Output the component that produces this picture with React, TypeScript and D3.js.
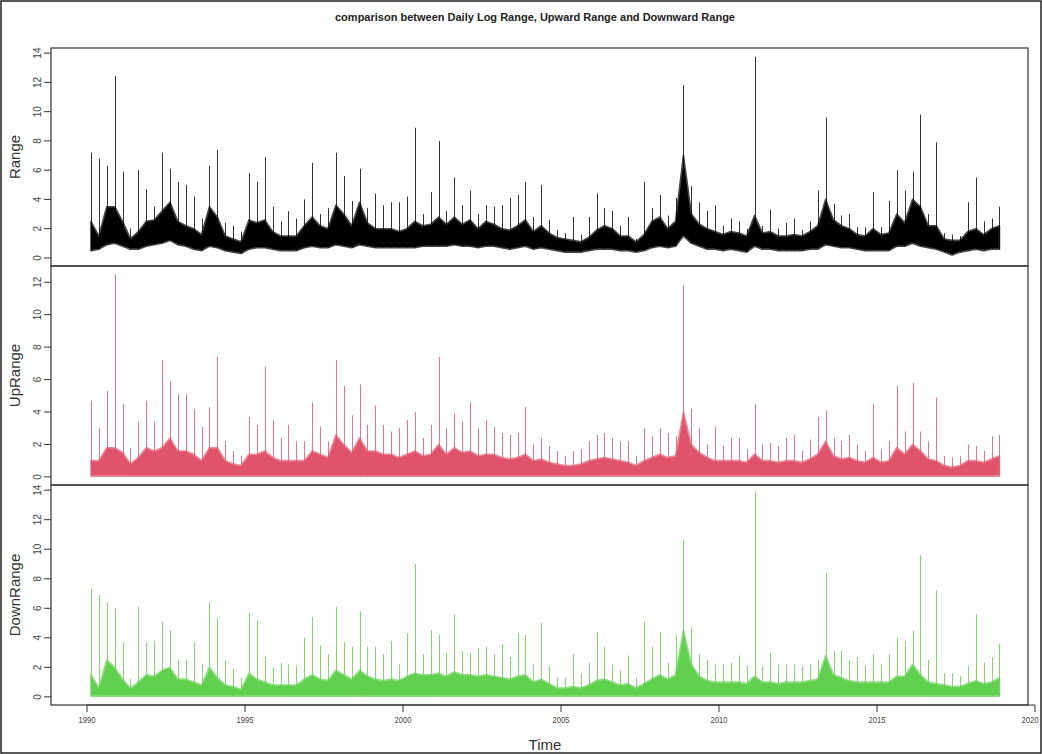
import React from "react";
import * as d3 from "d3";

const startYear = 1990;
const binsPerYear = 4;

const rangePeak = [
  7.2, 6.8, 6.3, 12.45, 5.9, 2.0, 6.0, 4.7, 3.5, 7.2,
  6.1, 5.2, 5.0, 4.2, 2.7, 6.3, 7.4, 2.4, 2.2, 1.8,
  5.8, 5.2, 6.9, 3.5, 2.5, 3.2, 2.7, 4.0, 6.5, 3.0,
  3.4, 7.2, 5.6, 3.9, 6.1, 3.4, 4.4, 3.6, 3.8, 3.8,
  4.2, 8.9, 3.0, 4.5, 8.0, 3.2, 5.5, 3.6, 4.6, 3.0,
  3.6, 3.5, 3.6, 4.1, 4.3, 5.2, 2.8, 5.0, 2.6, 1.9,
  1.7, 2.8, 1.6, 2.8, 4.4, 3.4, 3.2, 2.2, 2.8, 1.3,
  5.2, 3.4, 4.3, 2.9, 4.1, 11.8, 4.9, 3.8, 3.2, 3.6,
  2.2, 2.7, 2.5, 2.0, 13.75, 2.2, 3.3, 2.0, 2.4, 2.7,
  1.9, 2.5, 4.6, 9.6, 3.7, 2.9, 3.0, 2.1, 2.1, 4.5,
  2.1, 3.9, 6.0, 4.6, 5.9, 9.8, 3.0, 7.9, 1.7, 1.6,
  1.5, 3.8, 5.5, 2.5, 2.7, 3.5,
];
const rangeTop = [
  2.5, 1.5, 3.5, 3.5, 2.5, 1.3, 1.8, 2.5, 2.6, 3.2,
  3.8, 2.5, 2.2, 2.0, 1.6, 3.5, 2.8, 1.5, 1.3, 1.1,
  2.6, 2.4, 2.6, 1.8, 1.5, 1.5, 1.5, 2.2, 2.8, 2.2,
  2.0, 3.6, 3.0, 2.2, 3.8, 2.4, 2.0, 2.0, 2.0, 1.8,
  2.0, 2.5, 2.2, 2.3, 2.8, 2.3, 2.8, 2.3, 2.6, 2.0,
  2.5, 2.3, 2.0, 1.9, 2.2, 2.6, 1.8, 2.2, 1.7, 1.4,
  1.3, 1.2, 1.1, 1.4, 1.9, 2.2, 2.0, 1.5, 1.5, 1.1,
  1.6, 2.5, 2.8, 2.0, 2.5, 7.0, 3.0, 2.3, 2.0, 1.8,
  1.6, 1.8, 1.7, 1.5, 2.9, 1.7, 1.8, 1.5, 1.5, 1.6,
  1.5, 1.8, 2.2, 4.0, 2.6, 2.2, 2.0, 1.6, 1.5, 2.0,
  1.6, 1.7, 3.0, 2.4, 4.0, 3.5, 2.2, 2.2, 1.3, 1.2,
  1.2, 1.8, 2.0, 1.6, 2.0, 2.2,
];
const rangeLow = [
  0.5, 0.6, 0.9, 1.0, 0.8, 0.6, 0.6, 0.8, 0.9, 1.0,
  1.2, 0.9, 0.8, 0.6, 0.5, 0.8, 0.7, 0.5, 0.4, 0.3,
  0.6, 0.7, 0.7, 0.6, 0.5, 0.5, 0.5, 0.7, 0.8, 0.7,
  0.7, 0.9, 0.8, 0.7, 0.9, 0.8, 0.7, 0.7, 0.7, 0.7,
  0.7, 0.7, 0.8, 0.8, 0.8, 0.8, 0.9, 0.8, 0.8, 0.7,
  0.8, 0.8, 0.7, 0.6, 0.7, 0.8, 0.6, 0.7, 0.6, 0.5,
  0.4, 0.4, 0.4, 0.5, 0.6, 0.6, 0.6, 0.5, 0.5, 0.4,
  0.5, 0.7, 0.8, 0.7, 0.8, 1.5, 1.0, 0.8, 0.6, 0.6,
  0.5, 0.6, 0.5, 0.4, 0.8, 0.6, 0.6, 0.5, 0.5, 0.5,
  0.5, 0.6, 0.6, 0.9, 0.8, 0.7, 0.7, 0.6, 0.5, 0.5,
  0.5, 0.5, 0.8, 0.8, 1.0, 0.8, 0.7, 0.6, 0.4, 0.2,
  0.4, 0.5, 0.6, 0.5, 0.6, 0.6,
];

const upPeak = [
  4.7, 3.0, 5.3, 12.5, 4.5, 1.8, 3.4, 4.7, 3.4, 7.2,
  5.9, 5.1, 5.1, 4.2, 3.1, 4.3, 7.4, 2.2, 1.6, 1.3,
  3.7, 3.2, 6.8, 3.5, 2.4, 3.2, 2.2, 2.2, 4.6, 3.1,
  2.2, 7.2, 5.6, 3.8, 5.7, 3.2, 4.4, 3.2, 2.8, 3.0,
  3.5, 4.0, 2.4, 3.2, 7.4, 3.0, 3.9, 3.4, 4.6, 3.0,
  3.5, 3.1, 2.7, 2.6, 2.7, 4.3, 2.0, 2.4, 1.9, 1.6,
  1.3, 1.6, 1.7, 2.2, 2.6, 2.7, 2.4, 2.2, 2.2, 1.3,
  3.0, 2.5, 3.0, 2.7, 2.5, 11.8, 4.2, 3.0, 2.0, 3.1,
  1.9, 2.4, 2.4, 1.7, 4.5, 2.0, 2.1, 1.9, 2.4, 2.6,
  1.6, 2.3, 3.7, 4.1, 2.4, 2.2, 2.6, 2.0, 1.6, 4.5,
  1.7, 2.2, 5.6, 2.8, 5.8, 2.8, 2.2, 4.9, 1.3, 1.2,
  1.3, 2.0, 1.9, 1.6, 2.5, 2.6,
];
const upTop = [
  1.0, 1.0, 1.8, 1.8, 1.5, 0.8, 1.2, 1.8, 1.6, 1.8,
  2.4, 1.6, 1.6, 1.4, 1.0, 1.8, 1.8, 1.0, 0.8, 0.7,
  1.4, 1.4, 1.6, 1.2, 1.0, 1.0, 1.0, 1.0, 1.6, 1.4,
  1.2, 2.6, 2.0, 1.5, 2.4, 1.6, 1.6, 1.4, 1.4, 1.2,
  1.4, 1.6, 1.3, 1.4, 2.0, 1.4, 1.8, 1.5, 1.6, 1.3,
  1.4, 1.4, 1.2, 1.1, 1.2, 1.4, 1.0, 1.1, 0.9, 0.8,
  0.7, 0.7, 0.8, 1.0, 1.1, 1.2, 1.1, 1.0, 0.9, 0.7,
  1.0, 1.2, 1.4, 1.2, 1.3, 4.0, 2.0, 1.5, 1.2, 1.0,
  1.0, 1.0, 1.0, 0.9, 1.4, 1.0, 1.0, 0.9, 1.0, 1.0,
  0.9, 1.1, 1.4, 2.2, 1.3, 1.1, 1.2, 1.0, 0.9, 1.2,
  0.9, 1.0, 1.8, 1.4, 2.0, 1.6, 1.1, 1.0, 0.7, 0.6,
  0.7, 1.0, 1.0, 0.9, 1.1, 1.3,
];

const downPeak = [
  7.3, 6.9, 6.4, 6.0, 3.7, 1.2, 6.1, 3.7, 3.8, 5.1,
  4.5, 2.5, 2.5, 3.7, 2.2, 6.4, 5.3, 2.5, 1.9, 1.3,
  5.7, 5.2, 2.7, 2.0, 2.3, 2.2, 2.1, 4.0, 5.4, 3.5,
  2.9, 6.1, 3.7, 3.4, 5.8, 3.4, 3.4, 2.9, 3.8, 2.2,
  4.3, 9.0, 2.9, 4.5, 4.2, 3.0, 5.6, 3.1, 3.0, 3.3,
  3.4, 2.9, 3.6, 2.7, 4.3, 4.2, 2.2, 5.0, 2.1, 1.3,
  1.3, 2.9, 1.6, 2.3, 4.4, 3.4, 2.2, 1.8, 2.8, 1.3,
  5.1, 3.4, 4.4, 2.3, 4.2, 10.6, 4.7, 2.9, 2.5, 2.2,
  2.2, 2.3, 2.8, 2.1, 13.9, 2.1, 3.0, 2.2, 2.2, 2.2,
  2.1, 2.2, 2.5, 8.4, 3.1, 3.1, 2.5, 2.7, 2.1, 2.9,
  2.2, 2.9, 4.0, 3.8, 4.5, 9.6, 2.5, 7.2, 1.6, 1.6,
  1.4, 2.1, 5.6, 2.3, 2.7, 3.6,
];
const downTop = [
  1.5, 0.6, 2.5, 2.0, 1.2, 0.6, 1.0, 1.5, 1.4, 1.8,
  2.0, 1.2, 1.2, 1.0, 0.8, 2.0, 1.3, 0.8, 0.7, 0.5,
  1.6, 1.2, 1.0, 0.8, 0.8, 0.8, 0.8, 1.2, 1.5, 1.2,
  1.1, 1.8, 1.5, 1.2, 1.8, 1.4, 1.2, 1.1, 1.2, 1.1,
  1.4, 1.6, 1.5, 1.5, 1.6, 1.4, 1.7, 1.5, 1.5, 1.4,
  1.5, 1.4, 1.3, 1.2, 1.4, 1.5, 1.0, 1.2, 0.9, 0.6,
  0.6, 0.7, 0.6, 0.8, 1.1, 1.2, 1.0, 0.8, 0.9, 0.6,
  0.9, 1.2, 1.5, 1.2, 1.5, 4.5, 2.2, 1.4, 1.1, 1.0,
  1.0, 1.0, 1.0, 0.9, 1.4, 1.0, 1.0, 0.9, 1.0, 1.0,
  1.0, 1.1, 1.2, 2.8, 1.5, 1.3, 1.1, 1.0, 1.0, 1.0,
  1.0, 1.0, 1.4, 1.4, 2.2, 1.5, 1.0, 0.9, 0.8, 0.7,
  0.7, 0.9, 1.1, 0.9, 1.0, 1.3,
];
const floorValue = 0.05;

const yearTicks = [1990, 1995, 2000, 2005, 2010, 2015, 2020];
const rangeTicks = [0, 2, 4, 6, 8, 10, 12, 14];
const upTicks = [0, 2, 4, 6, 8, 10, 12];
const downTicks = [0, 2, 4, 6, 8, 10, 12, 14];

const W = 1042;
const H = 754;
const frameLeft = 51;
const frameRight = 1028;
const frameBottom = 705;

const x = d3.scaleLinear().domain([1990, 2020]).range([87, 1035]);
const binTime = (i: number) => startYear + (i + 0.5) / binsPerYear;

const panels = [
  { label: "Range", color: "#000000", edge: "#444", peak: rangePeak, top: rangeTop, low: rangeLow,
    ticks: rangeTicks, domain: [-0.55, 14.35], y0: 48, y1: 266 },
  { label: "UpRange", color: "#DF536B", edge: "#E8899A", peak: upPeak, top: upTop, low: null,
    ticks: upTicks, domain: [-0.5, 13.0], y0: 266, y1: 485 },
  { label: "DownRange", color: "#61D04F", edge: "#8EDD80", peak: downPeak, top: downTop, low: null,
    ticks: downTicks, domain: [-0.55, 14.35], y0: 485, y1: 705 },
];

const font = "'Liberation Sans', Arial, sans-serif";

function Panel({ p }: { p: any }) {
  const y = d3.scaleLinear().domain(p.domain).range([p.y1, p.y0]);
  const lowAt = (i: number) => (p.low ? p.low[i] : floorValue);
  const area = d3
    .area<number>()
    .x((_, i) => x(binTime(i)))
    .y0((_, i) => y(lowAt(i)))
    .y1((d) => y(d))
    .curve(d3.curveLinear);
  const mid = (p.y0 + p.y1) / 2;
  return (
    <g>
      <path d={area(p.top) || ""} fill={p.color} stroke={p.edge} strokeWidth={1.6} strokeLinejoin="round" />
      {p.peak.map((v: number, i: number) => (
        <line
          key={i}
          x1={Math.round(x(binTime(i))) + 0.5}
          x2={Math.round(x(binTime(i))) + 0.5}
          y1={y(lowAt(i))}
          y2={y(v)}
          stroke={p.color}
          strokeWidth={1}
          strokeOpacity={0.8}
        />
      ))}
      <rect x={frameLeft} y={p.y0} width={frameRight - frameLeft} height={p.y1 - p.y0}
        fill="none" stroke="#333" strokeWidth={1.2} />
      {p.ticks.map((t: number) => (
        <g key={t}>
          <line x1={frameLeft - 7} x2={frameLeft} y1={y(t)} y2={y(t)} stroke="#333" />
          <text transform={`translate(41,${y(t)}) rotate(-90)`} textAnchor="middle"
            fontSize={10} fill="#444" fontFamily={font}>{t}</text>
        </g>
      ))}
      <text transform={`translate(20,${mid}) rotate(-90)`} textAnchor="middle"
        fontSize={15} fill="#333" fontFamily={font}>{p.label}</text>
    </g>
  );
}

export default function App() {
  return (
    <svg width={W} height={H} style={{ display: "block", position: "absolute", left: 0, top: 0, background: "#fff" }}>
      <rect x={1} y={1} width={W - 2} height={H - 2} fill="none" stroke="#222" strokeWidth={1.5} />
      <text x={535} y={21} textAnchor="middle" fontSize={11} fontWeight="bold" fill="#222"
        fontFamily={font} textLength={400} lengthAdjust="spacingAndGlyphs">
        comparison between Daily Log Range, Upward Range and Downward Range
      </text>
      {panels.map((p) => <Panel key={p.label} p={p} />)}
      <line x1={x(1990)} x2={x(2020)} y1={frameBottom} y2={frameBottom} stroke="#333" />
      {yearTicks.map((yr) => (
        <g key={yr}>
          <line x1={x(yr)} x2={x(yr)} y1={frameBottom} y2={frameBottom + 7} stroke="#333" />
          <text x={Math.min(x(yr), 1030)} y={723} textAnchor="middle" fontSize={9} fill="#444" fontFamily={font}
            textLength={17} lengthAdjust="spacingAndGlyphs">{yr}</text>
        </g>
      ))}
      <text x={545} y={750} textAnchor="middle" fontSize={15} fill="#333" fontFamily={font}>Time</text>
    </svg>
  );
}
